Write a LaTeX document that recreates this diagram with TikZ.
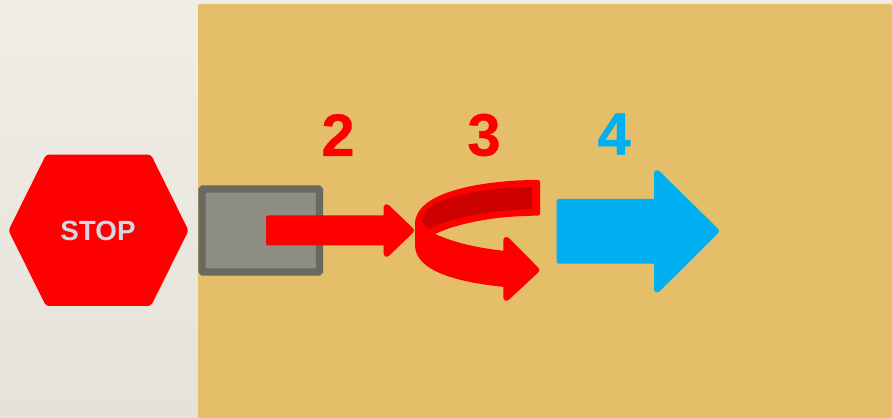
\documentclass[tikz,border=0pt]{standalone}
\usepackage{fontspec}
\setmainfont{Liberation Sans}
\newfontface\numfont{Liberation Sans Bold}[FakeBold=0.6]
\usepackage{tikz}
\usetikzlibrary{positioning}
\definecolor{panelcol}{HTML}{E4BE69}
\definecolor{pagetop}{HTML}{EFEDE6}
\definecolor{pagebot}{HTML}{E5E2D9}
\definecolor{boxfill}{HTML}{8E8E85}
\definecolor{boxedge}{HTML}{686960}
\definecolor{arrowblue}{HTML}{00B0F0}
\definecolor{stoptext}{HTML}{D0D8E4}
\definecolor{darkred}{HTML}{CC0000}

\begin{document}
\begin{tikzpicture}[
x=0.02cm,y=-0.02cm,
RedShape/.style={fill=red,rounded corners=1.2pt},
BlueShape/.style={fill=arrowblue,rounded corners=1.2pt},
RedHead/.style={draw=red,fill=red,line width=3.4pt,line join=round},
BlueHead/.style={draw=arrowblue,fill=arrowblue,line width=3.4pt,line join=round},
StepNum/.style={font=\fontsize{34}{34}\numfont,inner sep=0pt}
]
\useasboundingbox (0,0) rectangle (892,418);

% page and panel
\shade[top color=pagetop,bottom color=pagebot] (0,0) rectangle (892,418);
\fill[panelcol,rounded corners=1.2pt] (198,4) -- (892,4) -- (892,418) -- (198,418) -- cycle;

% stop sign
\fill[fill=red,rounded corners=1.7pt] (8.5,230.5)--(46,154.7)--(151,154.7)--(188.5,230.5)--(151,306)--(46,306)--cycle;
\node [text=stoptext,font=\fontsize{15.8}{16}\selectfont\bfseries,inner sep=0pt] (stop) at (98,231) {STOP};

% box
\draw[boxedge,fill=boxfill,line width=4.2pt,rounded corners=0.6pt] (202,189) rectangle (319.5,272);

% arrow 2
\fill[RedShape] (266,215.5)--(392,215.5)--(392,245.5)--(266,245.5)--cycle;
\draw[RedHead] (386.5,207)--(411,230.5)--(386.5,254)--cycle;

% arrow 3
\fill[red] (532,180)
  -- (532,215.9)
  .. controls (500,216) and (460,222) .. (435,234)
  .. controls (453,242) and (475,248) .. (510,251.5)
  -- (510,287.5)
  .. controls (460,283) and (415,272) .. (415,245)
  -- (415,224)
  .. controls (415,192) and (480,181) .. (532,180)
  -- cycle;
\fill[RedShape] (525,180)--(540,180)--(540,215.7)--(525,215.7)--cycle;
\draw[RedHead] (506.3,239.7)--(536.5,270)--(506.3,298)--cycle;
\fill[darkred] (532,187)
  .. controls (480,188) and (422,198) .. (422,220)
  .. controls (423,224) and (426,227) .. (429,229)
  .. controls (455,216) and (495,210) .. (532,209)
  -- cycle;

% arrow 4
\fill[BlueShape] (556.7,199)--(664,199)--(664,263.7)--(556.7,263.7)--cycle;
\draw[BlueHead] (657,173)--(716,231)--(657,289.7)--cycle;

% numbers
\node [StepNum,text=red] (two) at (338,135) {2};
\node [StepNum,text=red] (three) at (484,135) {3};
\node [StepNum,text=arrowblue] (four) at (614,134) {4};
\end{tikzpicture}
\end{document}
